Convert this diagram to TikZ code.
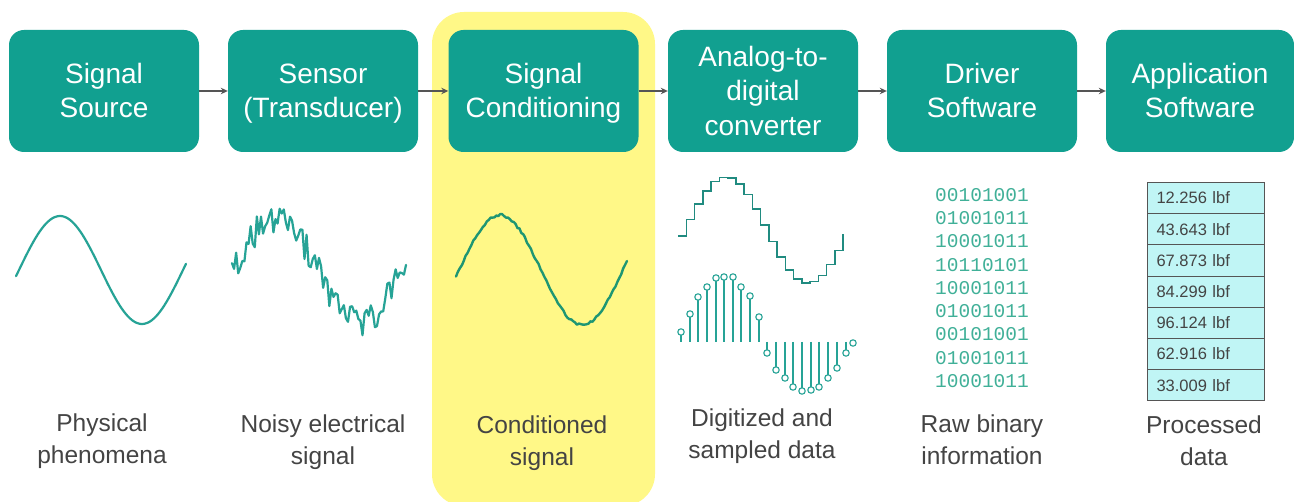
\documentclass[tikz,border=0pt]{standalone}
\usepackage{fontspec}
\setmainfont{Liberation Sans}
\newfontfamily\binfont{Liberation Mono}
\usetikzlibrary{arrows.meta}
\definecolor{boxteal}{RGB}{17,160,144}
\definecolor{wave}{RGB}{38,163,150}
\definecolor{wavedark}{RGB}{30,150,115}
\definecolor{hilite}{RGB}{255,248,135}
\definecolor{cellfill}{RGB}{192,245,245}
\definecolor{darkline}{RGB}{85,85,85}
\definecolor{labelgray}{RGB}{68,68,68}
\definecolor{bingreen}{RGB}{64,176,152}
\newcommand\stagestrut{\rule[-7.5pt]{0pt}{34.5pt}}
\tikzset{
 stage/.style={rectangle, rounded corners=15pt, fill=boxteal, text=white, minimum width=190pt, minimum height=122pt, align=center, inner sep=0pt, font=\fontsize{28}{34.5}\selectfont},
 flow/.style={draw=darkline, line width=1.4pt, -{Stealth[length=7pt,width=6.5pt]}},
 caption/.style={align=center, text=labelgray, font=\fontsize{24.5}{32}\selectfont},
 wavepen/.style={draw=wave, line width=2.2pt, line join=round, line cap=round},
 stairpen/.style={draw=wave!85!black, line width=1.5pt},
 stempen/.style={draw=wave, line width=1.2pt},
 cell/.style={draw=darkline, fill=cellfill, line width=1pt, minimum width=117pt, minimum height=31.2pt, text width=99pt, inner xsep=9pt, align=left, text=labelgray, font=\fontsize{16.5}{18}\selectfont, anchor=north west},
 bits/.style={anchor=west, inner sep=0pt, text=bingreen, font=\binfont\fontsize{19.5}{23}\selectfont},
}
\begin{document}
\begin{tikzpicture}[x=1pt,y=-1pt]
\useasboundingbox (0,0) rectangle (1294,502);
\fill[white] (0,0) rectangle (1294,502);
% highlight
\fill[hilite, rounded corners=32pt] (432,12) rectangle (655,506);

% stage boxes
\node[stage] (b1) at (104,91) {\stagestrut Signal\\\stagestrut Source};
\node[stage] (b2) at (323,91) {\stagestrut Sensor\\\stagestrut (Transducer)};
\node[stage] (b3) at (543.5,91) {\stagestrut Signal\\\stagestrut Conditioning};
\node[stage] (b4) at (763,91) {\stagestrut Analog-to-\\\stagestrut digital\\\stagestrut converter};
\node[stage] (b5) at (982,91) {\stagestrut Driver\\\stagestrut Software};
\node[stage, minimum width=188pt] (b6) at (1200,91) {\stagestrut Application\\\stagestrut Software};
\foreach \a/\b in {b1/b2,b2/b3,b3/b4,b4/b5,b5/b6}
  \draw[flow] (\a) -- (\b);

% physical phenomena
\draw[wavepen] plot[samples=80, smooth, domain=16:186] (\x, {270 - 54*sin((\x-19)/164*360)});
% noisy signal
\pgfmathsetseed{42}
\draw[wavepen, line width=2.2pt] plot[samples=85, domain=232:406] (\x, {270 - 52*sin((\x-233)/170*360) + 15*rand});
% conditioned signal
\pgfmathsetseed{7}
\draw[wavepen, draw=wavedark, line width=2.4pt] plot[samples=90, smooth, domain=456:627] (\x, {270 - 55*sin((\x-459)/164*360) + 1.2*rand});
% staircase
\draw[stairpen] plot[const plot, samples=21, domain=678:843] (\x, {230 - 53*sin((\x-681)/164*360)});
% sampled stems
\foreach \x/\y in {681/332, 690/314, 698/297, 707/287, 716/278, 724/277, 733/277, 741/287, 750/296, 759/317}{
  \draw[stempen] (\x,342) -- (\x,{\y+3.2});
  \draw[stempen, line width=1.1pt, fill=white] (\x,\y) circle[radius=3.2pt];
}
\foreach \x/\y in {767/353, 776/370, 785/378, 793/387, 802/391, 811/390, 819/387, 828/378, 837/368, 846/353, 853/343}{
  \draw[stempen] (\x,342) -- (\x,{\y-3.2});
  \draw[stempen, line width=1.1pt, fill=white] (\x,\y) circle[radius=3.2pt];
}
% binary
\foreach \b [count=\i from 0] in {00101001,01001011,10001011,10110101,10001011,01001011,00101001,01001011,10001011}
  \node[bits] (bin\i) at (935,{195+23.25*\i}) {\b};
% table
\foreach \v [count=\i from 0] in {12.256,43.643,67.873,84.299,96.124,62.916,33.009}
  \node[cell] (row\i) at (1147,{182+31.2*\i}) {\v\ lbf};

% captions
\node[caption] (l1) at (102,441) {Physical\\phenomena};
\node[caption] (l2) at (323,442) {Noisy electrical\\signal};
\node[caption] (l3) at (542,443) {Conditioned\\signal};
\node[caption] (l4) at (762,436) {Digitized and\\sampled data};
\node[caption] (l5) at (982,439.5) {Raw binary\\information};
\node[caption] (l6) at (1204,441) {Processed\\data};
\end{tikzpicture}
\end{document}
